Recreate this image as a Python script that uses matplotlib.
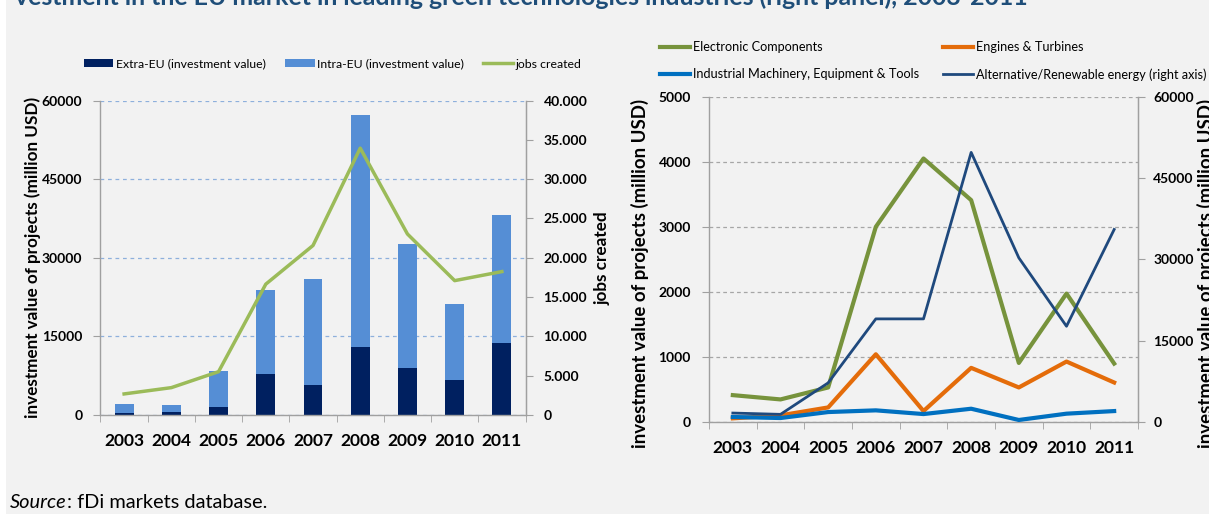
import matplotlib
matplotlib.use("Agg")
import matplotlib.pyplot as plt
from matplotlib.patches import Rectangle, Patch
from matplotlib.lines import Line2D
from matplotlib.ticker import FixedLocator, FuncFormatter

# ---------------- data ----------------
years = ["2003", "2004", "2005", "2006", "2007", "2008", "2009", "2010", "2011"]

# left panel (million USD, stacked)
extra_eu = [380, 650, 1460, 7900, 5750, 12980, 8900, 6620, 13750]
total_inv = [2100, 1980, 8350, 23850, 25950, 57250, 32550, 21200, 38100]
intra_eu = [t - e for t, e in zip(total_inv, extra_eu)]
jobs_created = [2680, 3480, 5510, 16640, 21560, 33940, 23020, 17090, 18240]

# right panel (million USD)
electronic = [413, 347, 531, 3000, 4050, 3410, 908, 1974, 898]
engines = [56, 102, 224, 1041, 168, 832, 531, 929, 607]
industrial = [77, 61, 153, 179, 122, 204, 31, 128, 168]
renewable = [1650, 1410, 7220, 19020, 19020, 49730, 30280, 17660, 35510]

left_y_ticks = [0, 15000, 30000, 45000, 60000]
jobs_ticks = [0, 5000, 10000, 15000, 20000, 25000, 30000, 35000, 40000]
right_y_ticks = [0, 1000, 2000, 3000, 4000, 5000]
renew_ticks = [0, 15000, 30000, 45000, 60000]

# ---------------- style ----------------
W, H = 1209, 514
FONT = ["Lato", "DejaVu Sans"]
plt.rcParams["font.family"] = FONT
BG = "#f2f2f2"
SPINE = "#a0a0a0"
TICK_FS = 10
YEAR_FS = 12.5
LABEL_FS = 12.3
LABEL_FS_R = 13.4
LEG_FS_L = 8.8
LEG_FS_R = 9.1

fig = plt.figure(figsize=(W / 100, H / 100), dpi=100)
fig.patch.set_facecolor("white")
fig.add_artist(Rectangle((6 / W, 0), 1, 1, transform=fig.transFigure,
                         facecolor=BG, edgecolor="none", zorder=-10))


def px_axes(x0, x1, ytop, ybot):
    return fig.add_axes([x0 / W, (H - ybot) / H, (x1 - x0) / W, (ybot - ytop) / H])


def style_axes(ax, grid_color, grid_dash):
    ax.set_facecolor("none")
    ax.set_xlim(-0.5, len(years) - 0.5)
    ax.spines["top"].set_visible(False)
    for s in ["left", "bottom", "right"]:
        ax.spines[s].set_color(SPINE)
        ax.spines[s].set_linewidth(1.0)
    ax.set_xticks(range(len(years)))
    ax.set_xticklabels(years, fontsize=YEAR_FS, fontweight="bold")
    ax.tick_params(axis="x", which="major", length=0, pad=13)
    ax.xaxis.set_minor_locator(FixedLocator([i - 0.5 for i in range(len(years) + 1)]))
    ax.tick_params(axis="x", which="minor", length=5, color=SPINE, direction="out")
    ax.tick_params(axis="y", length=5, color=SPINE, labelsize=TICK_FS, pad=8)
    for lab in ax.get_yticklabels():
        lab.set_fontweight("bold")
    ax.yaxis.grid(True, color=grid_color, linestyle=grid_dash, linewidth=0.9)
    ax.set_axisbelow(True)


def style_twin(ax2, pad=8):
    ax2.tick_params(axis="y", length=5, color=SPINE, labelsize=TICK_FS, pad=pad)
    for lab in ax2.get_yticklabels():
        lab.set_fontweight("bold")
    for s in ["top", "left", "bottom"]:
        ax2.spines[s].set_visible(False)
    ax2.spines["right"].set_color(SPINE)


def fig_to_axes(ax, px_x, px_y):
    """pixel position (from top-left) -> axes coordinates of ax"""
    pos = ax.get_position()
    fx, fy = px_x / W, 1 - px_y / H
    return (fx - pos.x0) / pos.width, (fy - pos.y0) / pos.height


# ---------------- left panel ----------------
axL = px_axes(100.5, 525.5, 100.5, 415)
x = list(range(len(years)))
axL.bar(x, extra_eu, width=0.4, color="#002060", zorder=2)
axL.bar(x, intra_eu, bottom=extra_eu, width=0.4, color="#558ed5", zorder=2)
axL.set_ylim(0, 60000)
axL.set_yticks(left_y_ticks)
style_axes(axL, "#8eb0dc", (0, (3, 3)))
axL.set_ylabel("investment value of projects (million USD)", fontsize=LABEL_FS,
               fontweight="bold")
axL.yaxis.set_label_coords(*fig_to_axes(axL, 41, 257))

axL2 = axL.twinx()
axL2.plot(x, jobs_created, color="#9bbb59", linewidth=2.5, zorder=3)
axL2.set_ylim(0, 40000)
axL2.set_yticks(jobs_ticks)
axL2.yaxis.set_major_formatter(
    FuncFormatter(lambda v, p: "0" if v == 0 else f"{int(v):,}".replace(",", ".")))
style_twin(axL2)
axL2.set_ylabel("jobs created", fontsize=LABEL_FS, fontweight="bold", labelpad=5)

handles_L = [Patch(facecolor="#002060"), Patch(facecolor="#558ed5"),
             Line2D([], [], color="#9bbb59", linewidth=2.5)]
labels_L = ["Extra-EU (investment value)", "Intra-EU (investment value)", "jobs created"]
fig.legend(handles_L, labels_L, loc="center left", bbox_to_anchor=(84 / W, 1 - 64 / H),
           ncol=3, frameon=False, fontsize=LEG_FS_L, handlelength=2.4, handleheight=0.6,
           handletextpad=0.2, columnspacing=1.6, borderaxespad=0, borderpad=0)

# ---------------- right panel ----------------
axR = px_axes(709, 1138, 96.7, 422)
axR.plot(x, electronic, color="#77933c", linewidth=3, zorder=3)
axR.plot(x, engines, color="#e46c0a", linewidth=3, zorder=3)
axR.plot(x, industrial, color="#0070c0", linewidth=3, zorder=3)
axR.set_ylim(0, 5000)
axR.set_yticks(right_y_ticks)
style_axes(axR, "#a6a6a6", (0, (3, 2.5)))
axR.set_ylabel("investment value of projects (million USD)", fontsize=LABEL_FS_R,
               fontweight="bold")
axR.yaxis.set_label_coords(*fig_to_axes(axR, 649, 273))

axR2 = axR.twinx()
axR2.plot(x, renewable, color="#1f497d", linewidth=2, zorder=4)
axR2.set_ylim(0, 60000)
axR2.set_yticks(renew_ticks)
style_twin(axR2, pad=6)
axR2.set_ylabel("investment value of projects (million USD)", fontsize=LABEL_FS_R,
                fontweight="bold")
axR2.yaxis.set_label_coords(*fig_to_axes(axR2, 1197, 273))

handles_R = [Line2D([], [], color="#77933c", linewidth=3),
             Line2D([], [], color="#0070c0", linewidth=3),
             Line2D([], [], color="#e46c0a", linewidth=3),
             Line2D([], [], color="#1f497d", linewidth=2)]
labels_R = ["Electronic Components", "Industrial Machinery, Equipment & Tools",
            "Engines & Turbines", "Alternative/Renewable energy (right axis)"]
fig.legend(handles_R, labels_R, loc="center left", bbox_to_anchor=(660 / W, 1 - 61 / H),
           ncol=2, frameon=False, fontsize=LEG_FS_R, handlelength=2.4,
           handletextpad=0.2, columnspacing=1.9, labelspacing=1.2, borderaxespad=0,
           borderpad=0)

# ---------------- texts ----------------
fig.text(15 / W, 1 - 5 / H,
         "vestment in the EU market in leading green technologies industries (right panel), 2003-2011",
         fontsize=17.9, fontweight="bold", color="#1f4e79", va="baseline", ha="left")

t1 = fig.text(10 / W, 1 - 508 / H, "Source", fontsize=14.4, style="italic", va="baseline")
fig.canvas.draw()
bb = t1.get_window_extent(fig.canvas.get_renderer())
fig.text(bb.x1 / W, 1 - 508 / H, ": fDi markets database.", fontsize=14.4, va="baseline")

fig.savefig("out.png", dpi=100, facecolor=fig.get_facecolor())
